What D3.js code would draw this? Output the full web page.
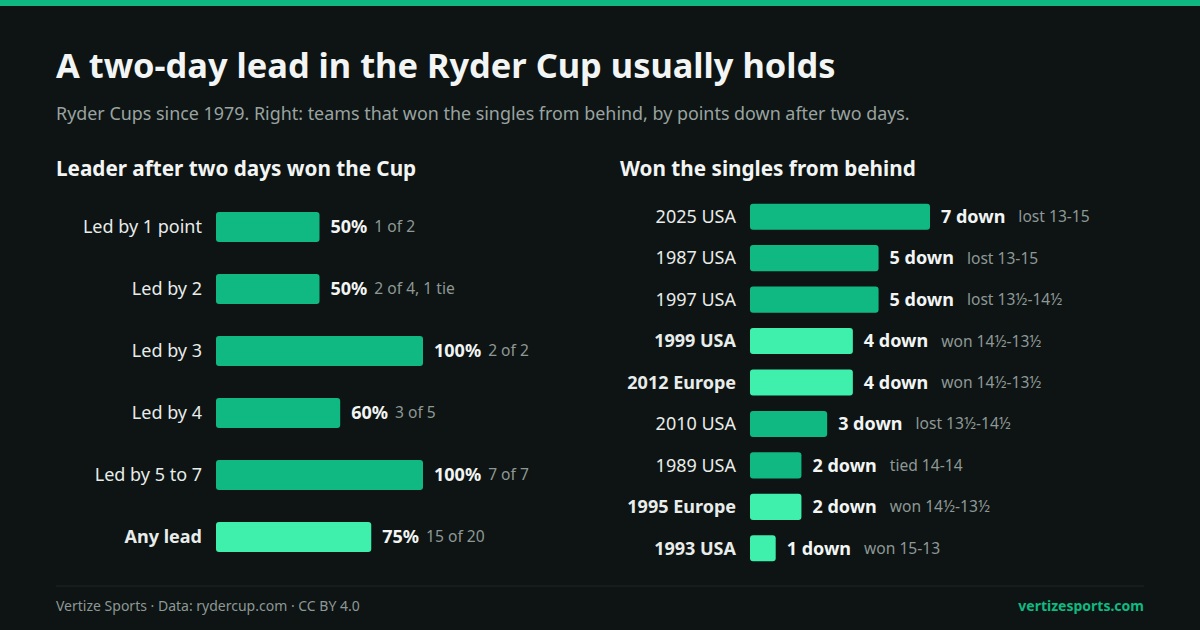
<!DOCTYPE html>
<html>
<head>
<meta charset="utf-8">
<script src="https://cdn.jsdelivr.net/npm/d3@7"></script>
<style>
  html, body { margin: 0; padding: 0; background: #0d1413; }
  svg { display: block; font-family: "Noto Sans", "Open Sans", sans-serif; }
</style>
</head>
<body>
<div id="vis"></div>
<script>
// left panel: leader after two days
const leadLabels = ['Led by 1 point', 'Led by 2', 'Led by 3', 'Led by 4', 'Led by 5 to 7', 'Any lead'];
const leadPct = [50, 50, 100, 60, 100, 75];
const leadNotes = ['1 of 2', '2 of 4, 1 tie', '2 of 2', '3 of 5', '7 of 7', '15 of 20'];
const leadTotal = [false, false, false, false, false, true];

// right panel: won the singles from behind
const teams = ['2025 USA', '1987 USA', '1997 USA', '1999 USA', '2012 Europe', '2010 USA', '1989 USA', '1995 Europe', '1993 USA'];
const pointsDown = [7, 5, 5, 4, 4, 3, 2, 2, 1];
const results = ['lost 13-15', 'lost 13-15', 'lost 13½-14½', 'won 14½-13½', 'won 14½-13½', 'lost 13½-14½', 'tied 14-14', 'won 14½-13½', 'won 15-13'];
const wonCup = [false, false, false, true, true, false, false, true, true];

const W = 1200, H = 630;
const dark = '#10b981', light = '#3ff0ad';

let svg = d3.select('#vis')
  .append('svg')
  .attr('width', W)
  .attr('height', H)
  .attr('viewBox', [0, 0, W, H].join(' '));

svg.append('rect').attr('width', W).attr('height', H).attr('fill', '#0d1413');
svg.append('rect').attr('width', W).attr('height', 6).attr('fill', dark);

svg.append('text')
  .attr('x', 56).attr('y', 78)
  .attr('fill', '#f2f5f4')
  .style('font-size', '34.4px').style('font-weight', 700)
  .text('A two-day lead in the Ryder Cup usually holds');

svg.append('text')
  .attr('x', 56).attr('y', 120)
  .attr('fill', '#9aa3a1')
  .style('font-size', '17.9px')
  .text('Ryder Cups since 1979. Right: teams that won the singles from behind, by points down after two days.');

svg.append('text')
  .attr('x', 56).attr('y', 176)
  .attr('fill', '#f2f5f4')
  .style('font-size', '20.7px').style('font-weight', 700)
  .text('Leader after two days won the Cup');

svg.append('text')
  .attr('x', 620).attr('y', 176)
  .attr('fill', '#f2f5f4')
  .style('font-size', '20.7px').style('font-weight', 700)
  .text('Won the singles from behind');

// left chart
let xL = d3.scaleLinear().domain([0, 100]).range([216, 423]);
let yL = d3.scaleBand().domain(leadLabels).range([196, 568]).paddingInner(0.516).paddingOuter(0.258);

let left = svg.append('g');
let lrow = left.selectAll('g').data(leadLabels).join('g')
  .attr('transform', d => `translate(0,${yL(d)})`);

lrow.append('rect')
  .attr('x', xL(0))
  .attr('width', (d, i) => xL(leadPct[i]) - xL(0))
  .attr('height', yL.bandwidth())
  .attr('rx', 3)
  .attr('fill', (d, i) => leadTotal[i] ? light : dark);

lrow.append('text')
  .attr('x', 202).attr('y', yL.bandwidth() / 2).attr('dy', '0.35em')
  .attr('text-anchor', 'end')
  .attr('fill', '#e8ecea')
  .style('font-size', '18px')
  .style('font-weight', (d, i) => leadTotal[i] ? 700 : 400)
  .text(d => d);

lrow.each(function(d, i) {
  let g = d3.select(this);
  let v = g.append('text')
    .attr('x', xL(leadPct[i]) + 11).attr('y', yL.bandwidth() / 2).attr('dy', '0.35em')
    .attr('fill', '#f2f5f4')
    .style('font-size', '18px').style('font-weight', 700)
    .text(leadPct[i] + '%');
  let w = v.node().getComputedTextLength();
  g.append('text')
    .attr('x', xL(leadPct[i]) + 11 + w + 7).attr('y', yL.bandwidth() / 2).attr('dy', '0.35em')
    .attr('fill', '#8e9896')
    .style('font-size', '15.6px')
    .text(leadNotes[i]);
});

// right chart
let xR = d3.scaleLinear().domain([0, 7]).range([750, 930]);
let yR = d3.scaleBand().domain(teams).range([196, 569]).paddingInner(0.37).paddingOuter(0.185);

let right = svg.append('g');
let rrow = right.selectAll('g').data(teams).join('g')
  .attr('transform', d => `translate(0,${yR(d)})`);

rrow.append('rect')
  .attr('x', xR(0))
  .attr('width', (d, i) => xR(pointsDown[i]) - xR(0))
  .attr('height', yR.bandwidth())
  .attr('rx', 3)
  .attr('fill', (d, i) => wonCup[i] ? light : dark);

rrow.append('text')
  .attr('x', 736).attr('y', yR.bandwidth() / 2).attr('dy', '0.35em')
  .attr('text-anchor', 'end')
  .attr('fill', '#e8ecea')
  .style('font-size', '18px')
  .style('font-weight', (d, i) => wonCup[i] ? 700 : 400)
  .text(d => d);

rrow.each(function(d, i) {
  let g = d3.select(this);
  let v = g.append('text')
    .attr('x', xR(pointsDown[i]) + 11).attr('y', yR.bandwidth() / 2).attr('dy', '0.35em')
    .attr('fill', '#f2f5f4')
    .style('font-size', '18px').style('font-weight', 700)
    .text(pointsDown[i] + ' down');
  let w = v.node().getComputedTextLength();
  g.append('text')
    .attr('x', xR(pointsDown[i]) + 11 + w + 13).attr('y', yR.bandwidth() / 2).attr('dy', '0.35em')
    .attr('fill', '#8e9896')
    .style('font-size', '15.6px')
    .text(results[i]);
});

// footer
svg.append('line')
  .attr('x1', 56).attr('x2', 1144)
  .attr('y1', 586).attr('y2', 586)
  .attr('stroke', '#1e2725').attr('stroke-width', 1);

svg.append('text')
  .attr('x', 56).attr('y', 611)
  .attr('fill', '#8e9896')
  .style('font-size', '14px')
  .text('Vertize Sports · Data: rydercup.com · CC BY 4.0');

svg.append('text')
  .attr('x', 1144).attr('y', 611)
  .attr('text-anchor', 'end')
  .attr('fill', dark)
  .style('font-size', '14px').style('font-weight', 700)
  .text('vertizesports.com');
</script>
</body>
</html>
